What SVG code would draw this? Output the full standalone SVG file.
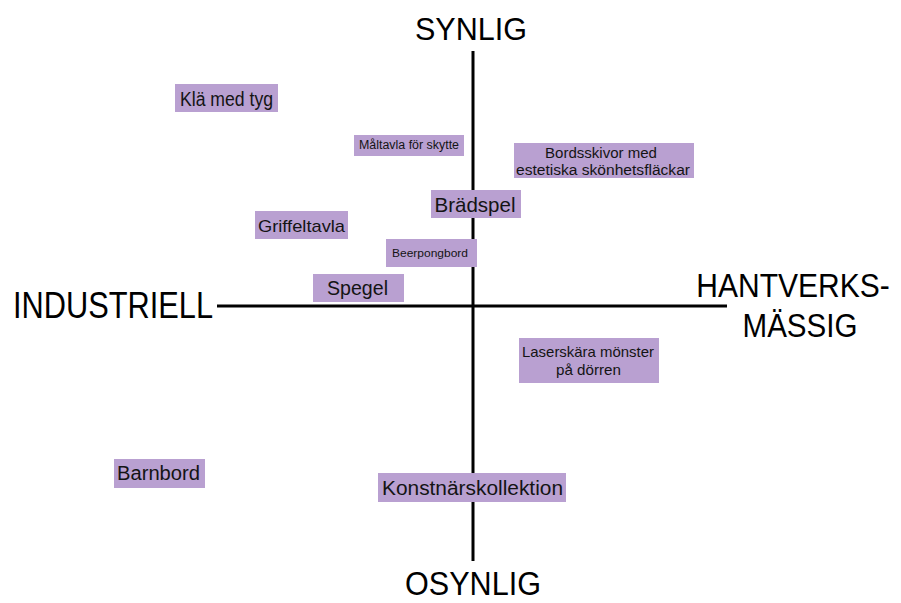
<svg xmlns="http://www.w3.org/2000/svg" width="901" height="603" viewBox="0 0 901 603">
<style>
.box{fill:#b9a0d1}
.t{font-family:"Liberation Sans",Arial,sans-serif;fill:#141414;text-anchor:middle}
.ax{font-family:"Liberation Sans",Arial,sans-serif;fill:#000;text-anchor:middle}
.line{stroke:#000;stroke-width:3;fill:none}
</style>
<rect width="901" height="603" fill="#fff"/>
<g id="axes">
<line class="line" x1="473" y1="51" x2="473" y2="561"/>
<line class="line" x1="217" y1="306" x2="727" y2="306"/>
</g>
<g id="label-synlig"><text class="ax" x="471" y="40" font-size="32" textLength="112" lengthAdjust="spacingAndGlyphs">SYNLIG</text></g>
<g id="label-osynlig"><text class="ax" x="473" y="595" font-size="34" textLength="136" lengthAdjust="spacingAndGlyphs">OSYNLIG</text></g>
<g id="label-industriell"><text class="ax" x="113" y="318" font-size="36" textLength="200" lengthAdjust="spacingAndGlyphs">INDUSTRIELL</text></g>
<g id="label-hantverk"><text class="ax" transform="translate(793,297) scale(1,1.13)" x="0" y="0" font-size="30">HANTVERKS-</text><text class="ax" x="800" y="337" font-size="34" textLength="115" lengthAdjust="spacingAndGlyphs">MÄSSIG</text></g>
<g id="n-kla"><rect class="box" x="175" y="84" width="103" height="28"/><text class="t" x="226.5" y="106" font-size="20" textLength="93" lengthAdjust="spacingAndGlyphs">Klä med tyg</text></g>
<g id="n-maltavla"><rect class="box" x="354" y="135" width="110" height="21"/><text class="t" x="409" y="149" font-size="12" textLength="100" lengthAdjust="spacingAndGlyphs">Måltavla för skytte</text></g>
<g id="n-bordsskivor"><rect class="box" x="514" y="143" width="180" height="35"/><text class="t" x="601" y="158" font-size="14" textLength="112" lengthAdjust="spacingAndGlyphs">Bordsskivor med</text><text class="t" x="603" y="175" font-size="14" textLength="174" lengthAdjust="spacingAndGlyphs">estetiska skönhetsfläckar</text></g>
<g id="n-bradspel"><rect class="box" x="431" y="190" width="90" height="28"/><text class="t" x="475" y="212" font-size="21" textLength="81" lengthAdjust="spacingAndGlyphs">Brädspel</text></g>
<g id="n-griffeltavla"><rect class="box" x="255" y="211" width="93" height="28"/><text class="t" x="301.5" y="232" font-size="17" textLength="87" lengthAdjust="spacingAndGlyphs">Griffeltavla</text></g>
<g id="n-beerpong"><rect class="box" x="386" y="239" width="91" height="28"/><text class="t" x="430" y="257" font-size="11" textLength="76" lengthAdjust="spacingAndGlyphs">Beerpongbord</text></g>
<g id="n-spegel"><rect class="box" x="313" y="274" width="91" height="28"/><text class="t" x="357.5" y="295" font-size="20" textLength="61" lengthAdjust="spacingAndGlyphs">Spegel</text></g>
<g id="n-laser"><rect class="box" x="519" y="338" width="140" height="45"/><text class="t" x="588" y="357" font-size="15" textLength="132" lengthAdjust="spacingAndGlyphs">Laserskära mönster</text><text class="t" x="588.5" y="375" font-size="15" textLength="65" lengthAdjust="spacingAndGlyphs">på dörren</text></g>
<g id="n-barnbord"><rect class="box" x="114" y="459" width="91" height="29"/><text class="t" x="158.5" y="480" font-size="20" textLength="83" lengthAdjust="spacingAndGlyphs">Barnbord</text></g>
<g id="n-konst"><rect class="box" x="378" y="473" width="188" height="29"/><text class="t" x="472.5" y="495" font-size="20" textLength="181" lengthAdjust="spacingAndGlyphs">Konstnärskollektion</text></g>
</svg>
